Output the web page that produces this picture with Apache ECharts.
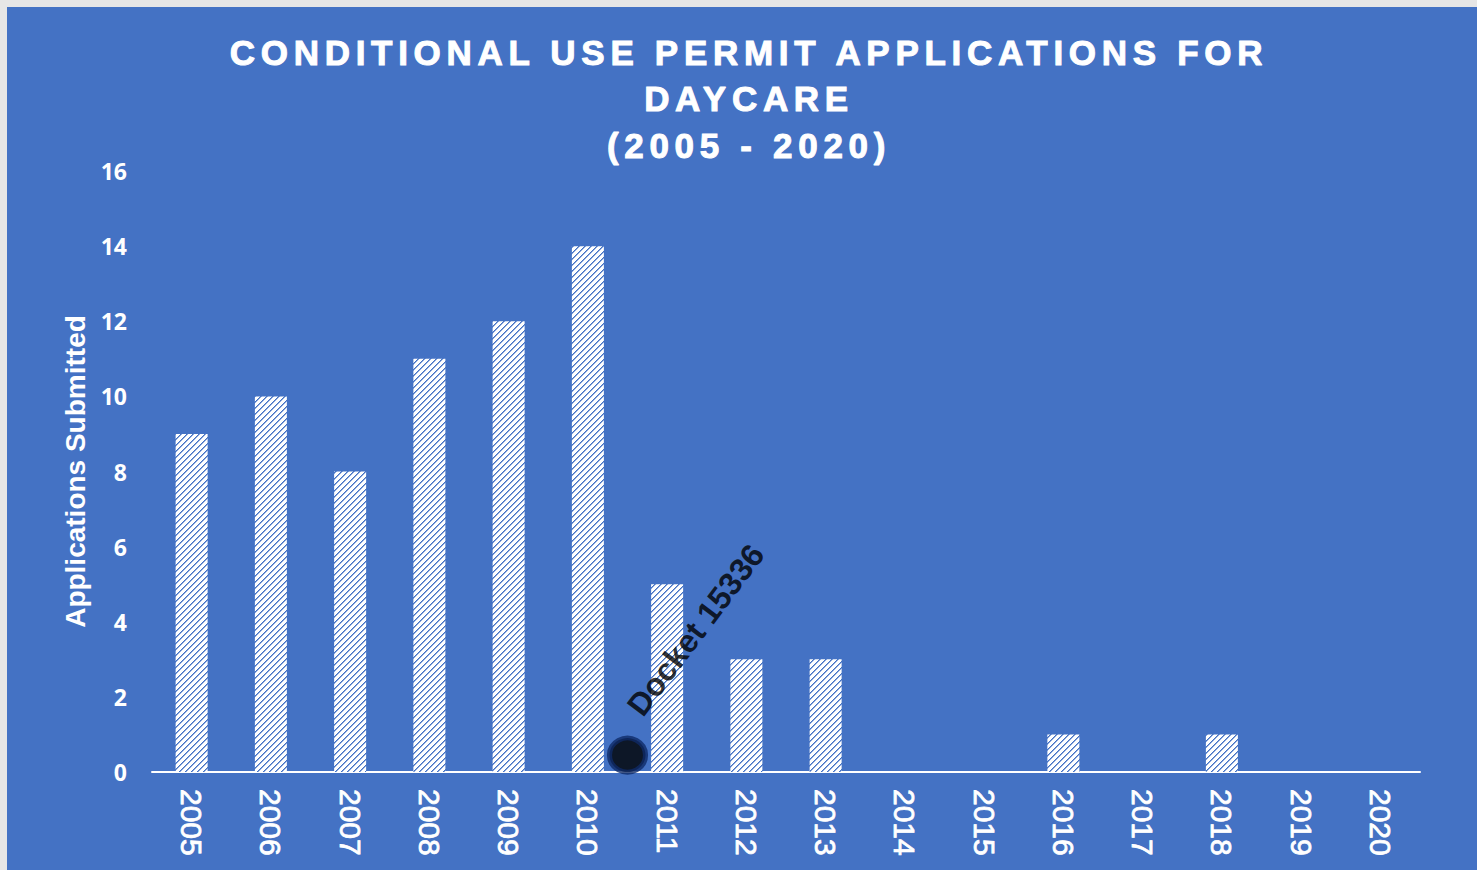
<!DOCTYPE html>
<html><head><meta charset="utf-8">
<script src="https://cdn.jsdelivr.net/npm/echarts@6/dist/echarts.min.js"></script>
<style>
html,body{margin:0;padding:0;background:#e6e6e6;width:1477px;height:870px;overflow:hidden;}
#chart{position:absolute;left:7px;top:7px;width:1470px;height:863px;background:#4472C4;}
#chart text[style*="35px"]{letter-spacing:5.7px;}
</style></head><body><div id="chart"></div>
<script>
const years = ['2005','2006','2007','2008','2009','2010','2011','2012','2013','2014','2015','2016','2017','2018','2019','2020'];
const applications = [9,10,8,11,12,14,5,3,3,0,0,1,0,1,0,0];
const yMin = 0, yMax = 16, yInterval = 2;
const docketMarker = [[5.5, 0.45]];
const docketLabelPoint = [[6.36, 3.78]];
const docketText = 'Docket 15336';
const titleLines = ['CONDITIONAL USE PERMIT APPLICATIONS FOR', 'DAYCARE', '(2005 - 2020)'];
const yAxisName = 'Applications Submitted';

function makeHatch() {
  const n = 6;
  const c = document.createElement('canvas'); c.width = n; c.height = n;
  const ctx = c.getContext('2d');
  const img = ctx.createImageData(n, n);
  for (let y = 0; y < n; y++) for (let x = 0; x < n; x++) {
    const k = (x + y) % n;
    const col = k === 0 ? [68,114,196] : (k === 1 ? [140,168,220] : [255,255,255]);
    const i = (y * n + x) * 4;
    img.data[i] = col[0]; img.data[i+1] = col[1]; img.data[i+2] = col[2]; img.data[i+3] = 255;
  }
  ctx.putImageData(img, 0, 0);
  return c.toDataURL();
}
const hatch = makeHatch();

const chart = echarts.init(document.getElementById('chart'), null, {renderer: 'svg'});
chart.setOption({
  animation: false,
  backgroundColor: '#4472C4',
  title: {
    text: titleLines.join('\n'),
    left: 742, top: 22, padding: 0, textAlign: 'center',
    textStyle: {color: '#ffffff', fontFamily: 'Liberation Sans', fontWeight: 'bold', fontSize: 35, lineHeight: 46.5,
      textBorderColor: '#ffffff', textBorderWidth: 1}
  },
  grid: {left: 145, right: 57, top: 164, bottom: 98, containLabel: false},
  xAxis: [{
    type: 'category', data: years,
    axisLine: {show: true, lineStyle: {color: '#ffffff', width: 2}},
    axisTick: {show: false},
    axisLabel: {color: '#ffffff', fontFamily: 'Liberation Sans', fontSize: 30, rotate: -90, margin: 17, interval: 0,
      textBorderColor: '#ffffff', textBorderWidth: 0.8}
  }, {
    type: 'value', min: -0.5, max: 15.5, show: false
  }],
  yAxis: {
    type: 'value', min: yMin, max: yMax, interval: yInterval,
    name: yAxisName, nameLocation: 'middle', nameRotate: 90, nameGap: 60,
    nameTextStyle: {color: '#ffffff', fontFamily: 'Liberation Sans', fontWeight: 'bold', fontSize: 28},
    axisLine: {show: false}, axisTick: {show: false}, splitLine: {show: false},
    axisLabel: {color: '#ffffff', fontFamily: 'Open Sans', fontWeight: 'bold', fontSize: 23, margin: 25}
  },
  series: [{
    type: 'bar', data: applications, barWidth: 32, xAxisIndex: 0,
    itemStyle: {color: {image: hatch, repeat: 'repeat', imageWidth: 6, imageHeight: 6}},
    emphasis: {disabled: true}
  }, {
    type: 'scatter', xAxisIndex: 1, data: docketMarker, symbol: 'circle', symbolSize: [36, 34], z: 5,
    itemStyle: {color: '#000000', borderColor: '#0f2a68', borderWidth: 5},
    emphasis: {disabled: true}
  }, {
    type: 'scatter', xAxisIndex: 1, data: docketLabelPoint, symbolSize: 1, z: 6,
    itemStyle: {color: 'rgba(0,0,0,0)'},
    label: {show: true, position: 'inside', formatter: docketText, rotate: 53,
      color: '#000000', fontFamily: 'Liberation Sans', fontWeight: 'bold', fontSize: 32},
    emphasis: {disabled: true}
  }]
});
</script></body></html>
